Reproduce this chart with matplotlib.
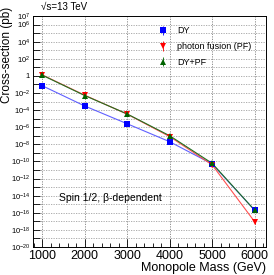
import math
import matplotlib
matplotlib.use("Agg")
import matplotlib.pyplot as plt
from matplotlib.ticker import LogLocator, MultipleLocator, NullFormatter, FuncFormatter

plt.rcParams['font.family'] = ['Liberation Sans', 'DejaVu Sans']
plt.rcParams['mathtext.fontset'] = 'custom'
plt.rcParams['mathtext.rm'] = 'Liberation Sans'
plt.rcParams['mathtext.it'] = 'Liberation Sans:italic'

# monopole masses (GeV) and cross-sections (pb)
mass = [1000, 2000, 3000, 4000, 5000, 6000]
xs_dy = [7e-2, 3e-4, 2.5e-6, 2e-8, 5e-11, 2e-16]
xs_pf = [1.3, 5.5e-3, 3.3e-5, 8e-8, 4e-11, 9e-18]
xs_sum = [1.2, 5e-3, 3.5e-5, 1e-7, 6e-11, 2e-16]
rel_err = [0.4, 0.4, 0.4, 0.4, 0.4, 0.4]

fig = plt.figure(figsize=(2.74, 2.75), dpi=100)
ax = fig.add_axes([0.120, 0.102, 0.851, 0.840])

series = [
    (xs_dy, 'blue', 's', 'DY'),
    (xs_pf, 'red', 'v', 'photon fusion (PF)'),
    (xs_sum, 'darkgreen', '^', 'DY+PF'),
]
line_cols = ['#6060ff', '#ff5050', '#207020']

for (ys, c, m, lab), lc in zip(series, line_cols):
    err = [y * r for y, r in zip(ys, rel_err)]
    ax.plot(mass, ys, color=lc, lw=0.8, zorder=2)
    ax.errorbar(mass, ys, yerr=err, fmt=m, color=c, ms=4.5, mew=0,
                elinewidth=0.6, capsize=1.5, capthick=0.6, label=lab, zorder=3)

ax.set_yscale('log')
ax.set_xlim(780, 6270)
ax.set_ylim(1e-20, 1e7)

ax.xaxis.set_major_locator(MultipleLocator(1000))
ax.xaxis.set_minor_locator(MultipleLocator(200))
ax.yaxis.set_major_locator(LogLocator(base=10, numticks=40))
ax.yaxis.set_minor_locator(LogLocator(base=10, subs=(1.0,), numticks=40))


def yfmt(v, pos):
    e = int(round(math.log10(v)))
    if e % 2 != 0 and e != 7:
        return ''
    if e == 0:
        return '1'
    return r'$10^{%d}$' % e


ax.yaxis.set_major_formatter(FuncFormatter(yfmt))
ax.yaxis.set_minor_formatter(NullFormatter())
ax.tick_params(axis='y', which='major', labelsize=5.5, direction='in', length=5, width=0.6, pad=2)
ax.tick_params(axis='y', which='minor', direction='in', length=3, width=0.6)
ax.tick_params(axis='x', which='major', labelsize=9, direction='in', length=6, width=0.6, pad=2)
ax.tick_params(axis='x', which='minor', direction='in', length=3, width=0.6)

ax.grid(True, which='major', axis='x', color='#808080', ls=(0, (1.5, 1.5)), lw=0.6)
ax.grid(True, which='both', axis='y', color='#a0a0a0', ls=(0, (1.5, 1.5)), lw=0.6)
for s in ax.spines.values():
    s.set_linewidth(0.7)

ax.set_xlabel('Monopole Mass (GeV)', fontsize=9, loc='right', labelpad=0)
fig.text(0.027, 0.975, 'Cross-section (pb)', fontsize=8.5, rotation=90,
         ha='center', va='top')

ax.legend(loc='upper left', bbox_to_anchor=(0.50, 0.99), frameon=False,
          fontsize=6.5, handlelength=1.2, handletextpad=1.0, labelspacing=0.75)

ax.text(0.11, 0.20, 'Spin 1/2, β-dependent', transform=ax.transAxes, fontsize=7.5)
fig.text(0.15, 0.965, '√s=13 TeV', fontsize=7)

fig.savefig('out.png', dpi=100)
